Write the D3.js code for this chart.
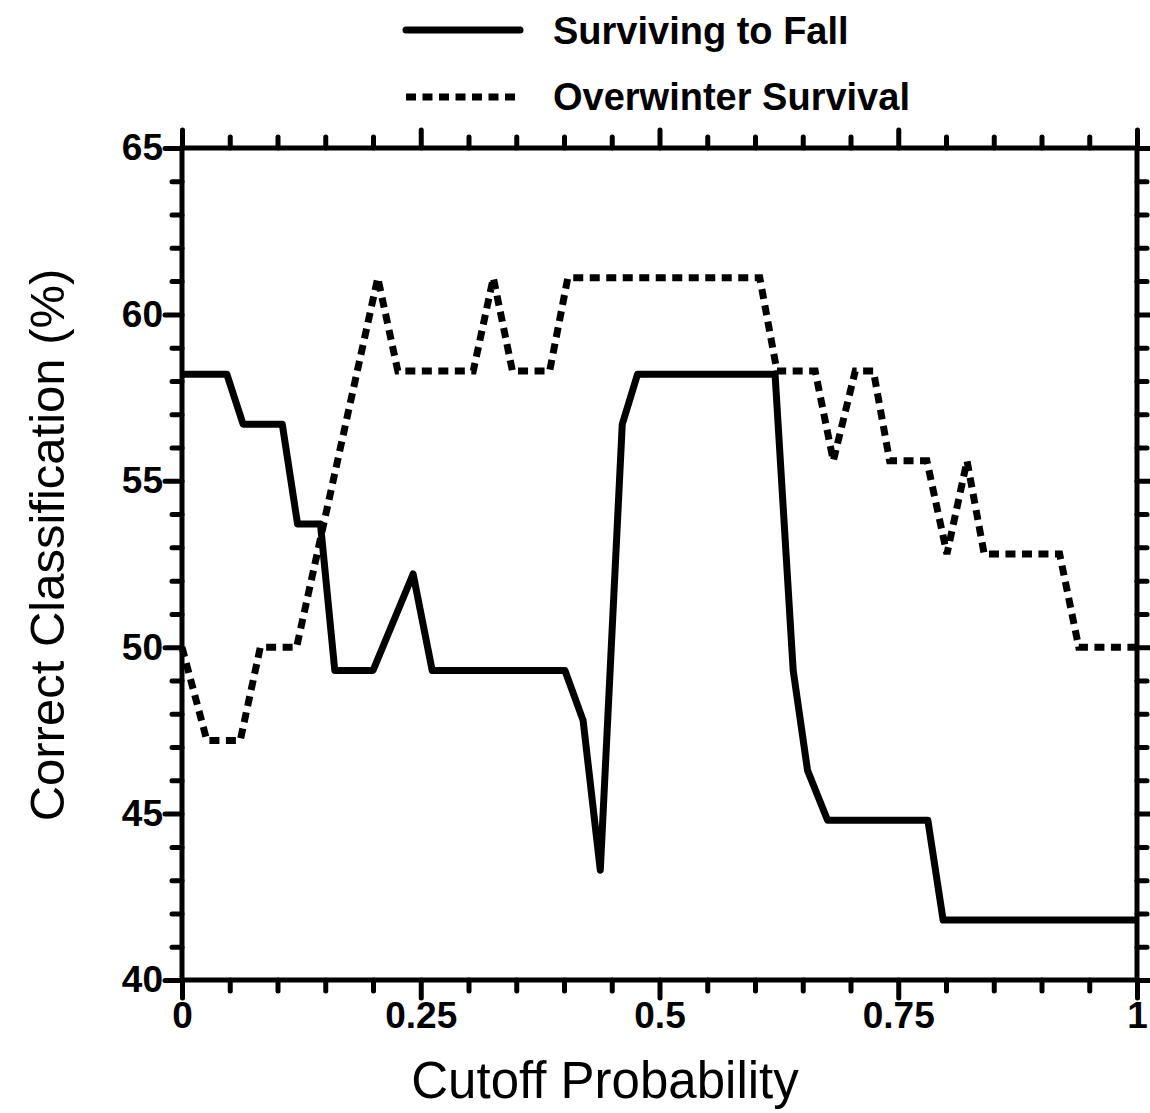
<!DOCTYPE html>
<html>
<head>
<meta charset="utf-8">
<script src="https://cdn.jsdelivr.net/npm/d3@7"></script>
<style>
  html, body { margin: 0; padding: 0; background: #fff; }
  svg { display: block; }
  text { font-family: "Liberation Sans", Arial, Helvetica, sans-serif; fill: #000; }
</style>
</head>
<body>
<svg id="chart" width="1150" height="1113"></svg>
<script>
// Cutoff probability (x) for each series vertex
const survivingX = [0, 0.047, 0.064, 0.105, 0.121, 0.145, 0.160, 0.200, 0.242, 0.262, 0.401, 0.420, 0.438, 0.461, 0.477, 0.621, 0.640, 0.655, 0.676, 0.781, 0.797, 1];
// Correct classification (%) — Surviving to Fall
const survivingY = [58.2, 58.2, 56.7, 56.7, 53.7, 53.7, 49.3, 49.3, 52.2, 49.3, 49.3, 47.8, 43.3, 56.7, 58.2, 58.2, 49.3, 46.3, 44.8, 44.8, 41.8, 41.8];

const overwinterX = [0, 0.026, 0.061, 0.082, 0.120, 0.205, 0.226, 0.305, 0.326, 0.346, 0.385, 0.404, 0.605, 0.623, 0.663, 0.682, 0.705, 0.724, 0.741, 0.780, 0.801, 0.822, 0.840, 0.919, 0.939, 1];
// Correct classification (%) — Overwinter Survival
const overwinterY = [50.0, 47.2, 47.2, 50.0, 50.0, 61.1, 58.3, 58.3, 61.1, 58.3, 58.3, 61.1, 61.1, 58.3, 58.3, 55.6, 58.3, 58.3, 55.6, 55.6, 52.8, 55.6, 52.8, 52.8, 50.0, 50.0];

const xMajorTicks = [0, 0.25, 0.5, 0.75, 1];
const xTickLabels = ["0", "0.25", "0.5", "0.75", "1"];
const yMajorTicks = [40, 45, 50, 55, 60, 65];
const yTickLabels = ["40", "45", "50", "55", "60", "65"];

const seriesNames = ["Surviving to Fall", "Overwinter Survival"];
const xTitle = "Cutoff Probability";
const yTitle = "Correct Classification (%)";

const svg = d3.select("#chart");
const plotL = 182, plotR = 1137, plotT = 148, plotB = 980;

const x = d3.scaleLinear().domain([0, 1]).range([plotL, plotR]);
const y = d3.scaleLinear().domain([40, 65]).range([plotB, plotT]);

const xMinor = d3.range(0, 1.0001, 0.05).filter(v => !xMajorTicks.some(m => Math.abs(m - v) < 1e-6));
const yMinor = d3.range(40, 65.001, 1).filter(v => v % 5 !== 0);

const tickW = 5;
const labelSize = 37;
function styleAxis(g) {
  g.select(".domain").remove();
  g.selectAll(".tick line").attr("stroke", "#000").attr("stroke-width", tickW).attr("stroke-linecap", "round");
}

// minor ticks on all four sides
svg.append("g").attr("transform", `translate(0,${plotB})`)
  .call(d3.axisBottom(x).tickValues(xMinor).tickSize(11).tickFormat(""))
  .call(styleAxis);
svg.append("g").attr("transform", `translate(0,${plotT})`)
  .call(d3.axisTop(x).tickValues(xMinor).tickSize(11).tickFormat(""))
  .call(styleAxis);
svg.append("g").attr("transform", `translate(${plotL},0)`)
  .call(d3.axisLeft(y).tickValues(yMinor).tickSize(10).tickFormat(""))
  .call(styleAxis);
svg.append("g").attr("transform", `translate(${plotR},0)`)
  .call(d3.axisRight(y).tickValues(yMinor).tickSize(10).tickFormat(""))
  .call(styleAxis);

// major ticks with labels
const xAx = svg.append("g").attr("transform", `translate(0,${plotB})`)
  .call(d3.axisBottom(x).tickValues(xMajorTicks).tickSize(18).tickPadding(4)
    .tickFormat((d, i) => xTickLabels[i]))
  .call(styleAxis);
xAx.selectAll("text").attr("font-size", labelSize).attr("font-weight", "bold")
  .attr("font-family", "'Liberation Sans', Arial, sans-serif");

svg.append("g").attr("transform", `translate(0,${plotT})`)
  .call(d3.axisTop(x).tickValues(xMajorTicks).tickSize(18).tickFormat(""))
  .call(styleAxis);

const yAx = svg.append("g").attr("transform", `translate(${plotL},0)`)
  .call(d3.axisLeft(y).tickValues(yMajorTicks).tickSize(17).tickPadding(2)
    .tickFormat((d, i) => yTickLabels[i]))
  .call(styleAxis);
yAx.selectAll("text").attr("font-size", labelSize).attr("font-weight", "bold")
  .attr("font-family", "'Liberation Sans', Arial, sans-serif");

svg.append("g").attr("transform", `translate(${plotR},0)`)
  .call(d3.axisRight(y).tickValues(yMajorTicks).tickSize(17).tickFormat(""))
  .call(styleAxis);

// plot frame
svg.append("rect")
  .attr("x", plotL).attr("y", plotT)
  .attr("width", plotR - plotL).attr("height", plotB - plotT)
  .attr("fill", "none").attr("stroke", "#000").attr("stroke-width", 5);

// series lines
const line = d3.line().x(d => x(d[0])).y(d => y(d[1]));
const survivingPts = survivingX.map((v, i) => [v, survivingY[i]]);
const overwinterPts = overwinterX.map((v, i) => [v, overwinterY[i]]);

svg.append("path").datum(overwinterPts)
  .attr("d", line).attr("fill", "none").attr("stroke", "#000")
  .attr("stroke-width", 7).attr("stroke-dasharray", "10,6.5");

svg.append("path").datum(survivingPts)
  .attr("d", line).attr("fill", "none").attr("stroke", "#000")
  .attr("stroke-width", 7).attr("stroke-linejoin", "round");

// legend
const legend = svg.append("g");
legend.append("line").attr("x1", 406).attr("x2", 520).attr("y1", 30).attr("y2", 30)
  .attr("stroke", "#000").attr("stroke-width", 7).attr("stroke-linecap", "round");
legend.append("line").attr("x1", 406).attr("x2", 520).attr("y1", 97).attr("y2", 97)
  .attr("stroke", "#000").attr("stroke-width", 7).attr("stroke-dasharray", "10,6.5");
legend.append("text").attr("x", 553).attr("y", 44).attr("font-size", 38).attr("font-weight", "bold").text(seriesNames[0]);
legend.append("text").attr("x", 553).attr("y", 110).attr("font-size", 38).attr("font-weight", "bold").text(seriesNames[1]);

// axis titles
svg.append("text").attr("x", 605).attr("y", 1098).attr("text-anchor", "middle")
  .attr("font-size", 51).text(xTitle);
svg.append("text").attr("transform", `translate(64,545) rotate(-90)`).attr("text-anchor", "middle")
  .attr("font-size", 49).text(yTitle);
</script>
</body>
</html>
